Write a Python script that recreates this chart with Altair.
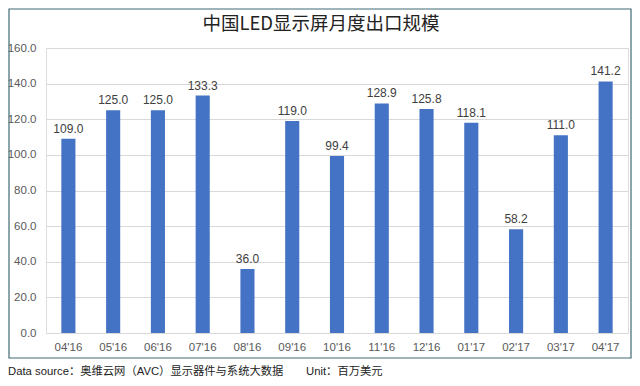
import altair as alt
import pandas as pd

months = ["04'16", "05'16", "06'16", "07'16", "08'16", "09'16", "10'16",
          "11'16", "12'16", "01'17", "02'17", "03'17", "04'17"]
values = [109.0, 125.0, 125.0, 133.3, 36.0, 119.0, 99.4,
          128.9, 125.8, 118.1, 58.2, 111.0, 141.2]
y_ticks = [0, 20, 40, 60, 80, 100, 120, 140, 160]
title_text = "中国LED显示屏月度出口规模"
footer_source = "Data source：奥维云网（AVC）显示器件与系统大数据"
footer_unit = "Unit：百万美元"

df = pd.DataFrame({"month": months, "value": values})

W, H = 582, 285
FONT = "Liberation Sans, Noto Sans CJK SC, sans-serif"
CJK = "Noto Sans CJK SC, sans-serif"

x_axis = alt.Axis(labelAngle=0, ticks=False, domain=False, labelFontSize=11.5,
                  labelColor="#595959", labelPadding=8, labelFont=FONT)
y_axis = alt.Axis(values=y_ticks, format=".1f", labelOverlap=False, tickCount=20,
                  ticks=False, domain=False, labelFontSize=11.5, labelColor="#595959",
                  labelPadding=10, gridColor="#d9d9d9", labelFont=FONT)
x = alt.X("month:N", sort=months, title=None,
          scale=alt.Scale(paddingInner=0.685), axis=x_axis)
y = alt.Y("value:Q", title=None, scale=alt.Scale(domain=[0, 160]), axis=y_axis)

bars = alt.Chart(df).mark_bar(color="#4472C4").encode(x=x, y=y)
labels = alt.Chart(df).mark_text(dy=-10, fontSize=12, color="#404040", font=FONT).encode(
    x=x, y=y, text=alt.Text("value:Q", format=".1f"))

border = alt.Chart(pd.DataFrame({"a": [0]})).mark_rect(
    fill=None, stroke="#3f6a74", strokeWidth=1.2).encode(
    x=alt.value(-37), x2=alt.value(W + 3), y=alt.value(-39), y2=alt.value(310))

title = alt.Chart(pd.DataFrame({"t": [title_text]})).mark_text(
    fontSize=18.5, color="#222222", font=CJK, align="center", baseline="middle").encode(
    text="t:N", x=alt.value(275), y=alt.value(-24))

foot1 = alt.Chart(pd.DataFrame({"t": [footer_source]})).mark_text(
    fontSize=11.3, color="#222222", font=FONT, align="left", baseline="middle").encode(
    text="t:N", x=alt.value(-38), y=alt.value(324))
foot2 = alt.Chart(pd.DataFrame({"t": [footer_unit]})).mark_text(
    fontSize=11.3, color="#222222", font=FONT, align="left", baseline="middle").encode(
    text="t:N", x=alt.value(260), y=alt.value(324))

chart = alt.layer(bars, labels, border, title, foot1, foot2).properties(
    width=W, height=H,
    autosize=alt.AutoSizeParams(type="none"),
    padding={"left": 38, "top": 40, "right": 4, "bottom": 53},
).configure_view(stroke=None).configure(background="white")

chart.save("out.html", embed_options={"renderer": "svg", "actions": False})
